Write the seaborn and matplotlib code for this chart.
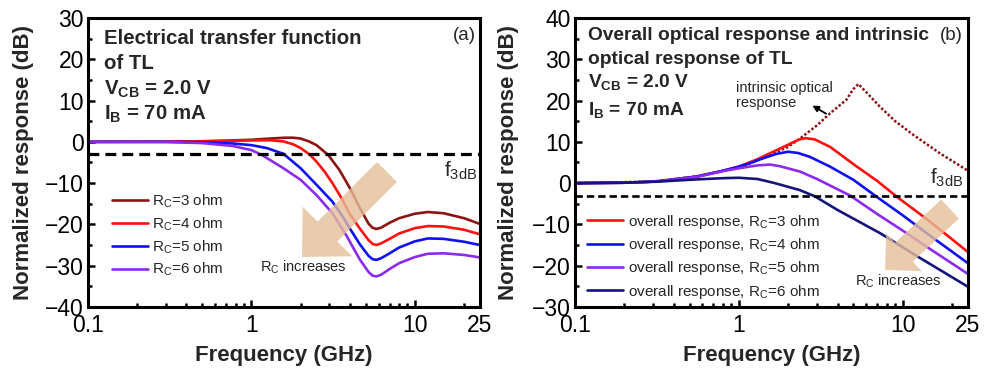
import matplotlib
matplotlib.use("Agg")
import matplotlib.pyplot as plt
import seaborn as sns
import pandas as pd
from matplotlib.patches import FancyArrow
from matplotlib.transforms import IdentityTransform
from matplotlib.ticker import FixedLocator, LogLocator, NullFormatter, MultipleLocator

# ---------------- data: panel (a) electrical transfer function ----------------
freq_a3 = [0.1, 0.3, 0.5, 0.7, 1.0, 1.3, 1.6, 1.8, 2.0, 2.25, 2.5, 2.95, 3.45, 4.0, 4.6, 5.2, 5.5, 5.8, 6.2, 7.0, 8.0, 10, 12, 15, 20, 25]
resp_a3 = [0, 0.05, 0.15, 0.3, 0.5, 0.8, 1.0, 1.0, 0.8, 0.1, -0.8, -3.2, -6.8, -11.2, -16.0, -19.8, -20.8, -21.1, -20.8, -19.6, -18.5, -17.4, -17.0, -17.3, -18.5, -19.9]

freq_a4 = [0.1, 0.3, 0.5, 0.7, 1.0, 1.3, 1.57, 1.8, 2.0, 2.29, 2.5, 2.8, 3.13, 3.6, 4.0, 4.6, 5.2, 5.5, 5.8, 6.2, 7, 8, 10, 12, 15, 20, 25]
resp_a4 = [0, 0.05, 0.1, 0.2, 0.35, 0.4, 0.1, -0.6, -1.5, -3.2, -4.8, -7.2, -10.0, -14.0, -17.5, -21.0, -23.8, -24.7, -25.0, -24.6, -23.5, -22.2, -20.9, -20.4, -20.5, -21.3, -22.4]

freq_a5 = [0.1, 0.3, 0.5, 0.77, 1.0, 1.24, 1.57, 2.0, 2.5, 3.13, 3.6, 4.0, 4.6, 5.2, 5.5, 5.8, 6.2, 7, 8, 10, 12, 15, 20, 25]
resp_a5 = [0, 0, -0.1, -0.4, -0.8, -1.5, -2.9, -6.4, -10.4, -14.5, -18.0, -21.0, -24.8, -27.6, -28.4, -28.6, -28.2, -27.0, -25.6, -24.1, -23.4, -23.5, -24.2, -25.0]

freq_a6 = [0.1, 0.3, 0.5, 0.77, 1.0, 1.16, 1.57, 2.0, 2.5, 3.13, 3.85, 4.6, 5.2, 5.5, 5.8, 6.2, 7, 8, 10, 12, 15, 20, 25]
resp_a6 = [0, -0.05, -0.3, -1.0, -2.0, -3.2, -6.4, -9.2, -12.9, -17.3, -23.0, -28.5, -31.5, -32.4, -32.6, -32.2, -30.8, -29.4, -27.9, -27.1, -27.0, -27.4, -28.0]

labels_a = ["R$_{C}$=3 ohm", "R$_{C}$=4 ohm", "R$_{C}$=5 ohm", "R$_{C}$=6 ohm"]
colors_a = ["#8c1414", "#ff1010", "#1010f5", "#8c2af0"]

# ---------------- data: panel (b) optical response ----------------
freq_b3 = [0.1, 0.2, 0.315, 0.553, 0.8, 1.0, 1.3, 1.62, 2.0, 2.3, 2.55, 2.9, 3.6, 5, 7, 9.2, 14, 20, 25]
resp_b3 = [0, 0.1, 0.4, 1.6, 3.0, 4.0, 5.8, 7.6, 9.3, 10.5, 10.9, 10.6, 8.8, 4.6, 0.5, -3.3, -8.7, -13.6, -16.7]

freq_b4 = [0.1, 0.2, 0.315, 0.553, 0.8, 1.0, 1.17, 1.4, 1.7, 2.0, 2.3, 2.7, 3.6, 5, 6.93, 10, 15, 25]
resp_b4 = [0, 0.1, 0.4, 1.6, 3.0, 4.0, 4.8, 6.0, 7.1, 7.6, 7.3, 6.4, 4.0, 0.8, -3.3, -7.8, -13.0, -19.4]

freq_b5 = [0.1, 0.2, 0.315, 0.553, 0.8, 1.0, 1.3, 1.55, 1.78, 2.36, 3.0, 4.77, 7, 10, 15, 25]
resp_b5 = [0, 0.1, 0.4, 1.5, 2.9, 3.6, 4.3, 4.5, 4.1, 2.8, 1.0, -3.0, -7.5, -11.5, -16.2, -22.0]

freq_b6 = [0.1, 0.2, 0.315, 0.553, 0.8, 1.0, 1.3, 1.62, 2.0, 2.36, 2.91, 4.0, 7.26, 12, 25]
resp_b6 = [0, 0.1, 0.35, 0.9, 1.2, 1.3, 1.0, 0.1, -0.9, -1.7, -3.2, -6.5, -12.1, -17.5, -25.1]

freq_bi = [0.1, 0.3, 0.55, 1.0, 1.5, 2.0, 2.36, 3.0, 3.6, 4.53, 5.0, 5.36, 6.0, 7.26, 9.0, 11.6, 16.9, 25]
resp_bi = [0, 0.4, 1.6, 3.9, 6.5, 8.8, 10.8, 14.0, 16.9, 20.2, 22.8, 24.0, 22.0, 18.5, 15.0, 11.7, 7.2, 3.0]

labels_b = ["overall response, R$_{C}$=3 ohm", "overall response, R$_{C}$=4 ohm",
            "overall response, R$_{C}$=5 ohm", "overall response, R$_{C}$=6 ohm"]
colors_b = ["#ff1010", "#1010f5", "#8c2af0", "#14147a"]
color_intrinsic = "#8c1414"

level_3db = -3
xticks = [0.1, 1, 10, 25]
xticklabels = ["0.1", "1", "10", "25"]
yticks_a = [-40, -30, -20, -10, 0, 10, 20, 30]
yticks_b = [-30, -20, -10, 0, 10, 20, 30, 40]

# ---------------- style ----------------
sns.set_theme(style="ticks")
plt.rcParams["font.family"] = ["Liberation Sans", "DejaVu Sans"]
plt.rcParams["mathtext.default"] = "regular"
plt.rcParams["axes.linewidth"] = 2.2

fig = plt.figure(figsize=(9.84, 3.68), dpi=100)
axA = fig.add_axes([0.0894, 0.1658, 0.3984, 0.7853])
axB = fig.add_axes([0.5843, 0.1658, 0.3994, 0.7853])


def frame(ax, yticks):
    ax.set_xscale("log")
    ax.set_xlim(0.1, 25)
    ax.set_ylim(yticks[0], yticks[-1])
    ax.xaxis.set_major_locator(FixedLocator(xticks))
    ax.set_xticklabels(xticklabels)
    ax.xaxis.set_minor_locator(LogLocator(base=10, subs=range(2, 10)))
    ax.xaxis.set_minor_formatter(NullFormatter())
    ax.set_yticks(yticks)
    ax.yaxis.set_minor_locator(MultipleLocator(5))
    ax.tick_params(which="both", direction="in", top=False, right=False, width=1.8,
                   labelsize=16.5, colors="black")
    ax.tick_params(axis="x", which="both", pad=5)
    ax.tick_params(axis="y", which="both", pad=3)
    ax.tick_params(which="major", length=5)
    ax.tick_params(which="minor", length=2.8)
    for s in ax.spines.values():
        s.set_visible(True)
        s.set_color("black")
        s.set_linewidth(2.2)
    ax.set_xlabel("Frequency (GHz)", fontsize=16, fontweight="bold")
    ax.set_ylabel("Normalized response (dB)", fontsize=16, fontweight="bold")
    ax.xaxis.set_label_coords(0.5, -0.132)


# ---------------- panel (a) ----------------
series_a = [(freq_a3, resp_a3), (freq_a4, resp_a4), (freq_a5, resp_a5), (freq_a6, resp_a6)]
for (fx, ry), lab, col in zip(series_a, labels_a, colors_a):
    sns.lineplot(x=fx, y=ry, ax=axA, color=col, lw=1.9, label=lab)
axA.axhline(level_3db, color="black", lw=2.3, ls=(0, (3.4, 1.9)))
frame(axA, yticks_a)
axA.yaxis.set_label_coords(-0.137, 0.5)
axA.legend(loc="upper left", bbox_to_anchor=(0.061, 0.395), frameon=False, fontsize=11,
           handlelength=2.35, handletextpad=0.3, labelspacing=0.35, borderpad=0, borderaxespad=0)

axA.text(0.041, 0.910, "Electrical transfer function", transform=axA.transAxes,
         fontsize=14.7, fontweight="bold", va="baseline")
axA.text(0.041, 0.825, "of TL", transform=axA.transAxes, fontsize=14.7, fontweight="bold", va="baseline")
axA.text(0.041, 0.734, "V$_{CB}$ = 2.0 V", transform=axA.transAxes, fontsize=14.7, fontweight="bold", va="baseline")
axA.text(0.041, 0.647, "I$_{B}$ = 70 mA", transform=axA.transAxes, fontsize=14.7, fontweight="bold", va="baseline")
axA.text(0.99, 0.968, "(a)", transform=axA.transAxes, fontsize=13.5, ha="right", va="top")
axA.text(0.992, 0.451, "f$_{3dB}$", transform=axA.transAxes, fontsize=15, ha="right", va="baseline")
axA.text(0.439, 0.122, "R$_{C}$ increases", transform=axA.transAxes, fontsize=10.5, va="baseline")

# ---------------- panel (b) ----------------
sns.lineplot(x=freq_bi, y=resp_bi, ax=axB, color=color_intrinsic, lw=1.8,
             ls=(0, (1, 0.8)))
series_b = [(freq_b3, resp_b3), (freq_b4, resp_b4), (freq_b5, resp_b5), (freq_b6, resp_b6)]
for (fx, ry), lab, col in zip(series_b, labels_b, colors_b):
    sns.lineplot(x=fx, y=ry, ax=axB, color=col, lw=1.9, label=lab)
axB.axhline(level_3db, color="black", lw=1.9, ls=(0, (2.8, 1.5)))
frame(axB, yticks_b)
axB.yaxis.set_label_coords(-0.1425, 0.5)
axB.legend(loc="upper left", bbox_to_anchor=(0.031, 0.326), frameon=False, fontsize=11,
           handlelength=2.35, handletextpad=0.3, labelspacing=0.35, borderpad=0, borderaxespad=0)

axB.text(0.034, 0.924, "Overall optical response and intrinsic", transform=axB.transAxes,
         fontsize=13.8, fontweight="bold", va="baseline")
axB.text(0.034, 0.841, "optical response of TL", transform=axB.transAxes,
         fontsize=13.8, fontweight="bold", va="baseline")
axB.text(0.034, 0.760, "V$_{CB}$ = 2.0 V", transform=axB.transAxes, fontsize=13.8, fontweight="bold", va="baseline")
axB.text(0.034, 0.664, "I$_{B}$ = 70 mA", transform=axB.transAxes, fontsize=13.8, fontweight="bold", va="baseline")
axB.text(0.987, 0.969, "(b)", transform=axB.transAxes, fontsize=13.5, ha="right", va="top")
axB.text(0.987, 0.428, "f$_{3dB}$", transform=axB.transAxes, fontsize=15, ha="right", va="baseline")
axB.text(0.712, 0.073, "R$_{C}$ increases", transform=axB.transAxes, fontsize=10.5, va="baseline")
axB.text(0.411, 0.745, "intrinsic optical", transform=axB.transAxes, fontsize=10.5, va="baseline")
axB.text(0.411, 0.693, "response", transform=axB.transAxes, fontsize=10.5, va="baseline")
axB.annotate("", xy=(0.598, 0.702), xytext=(0.645, 0.664), xycoords="axes fraction",
             textcoords="axes fraction",
             arrowprops=dict(arrowstyle="-|>", color="black", lw=1.3, mutation_scale=9))

# ---------------- big translucent arrows (figure pixels) ----------------
H = 368
for (x0, y0, x1, y1, w, hw, hl) in [(387, 172, 302, 257, 28, 70, 36),
                                     (950, 209, 885, 270, 26, 52, 26)]:
    arr = FancyArrow(x0, H - y0, x1 - x0, -(y1 - y0), width=w, head_width=hw, head_length=hl,
                     length_includes_head=True, transform=IdentityTransform(),
                     facecolor="#e6bf9a", edgecolor="none", alpha=0.8, zorder=5)
    fig.add_artist(arr)

fig.savefig("out.png", dpi=100)
